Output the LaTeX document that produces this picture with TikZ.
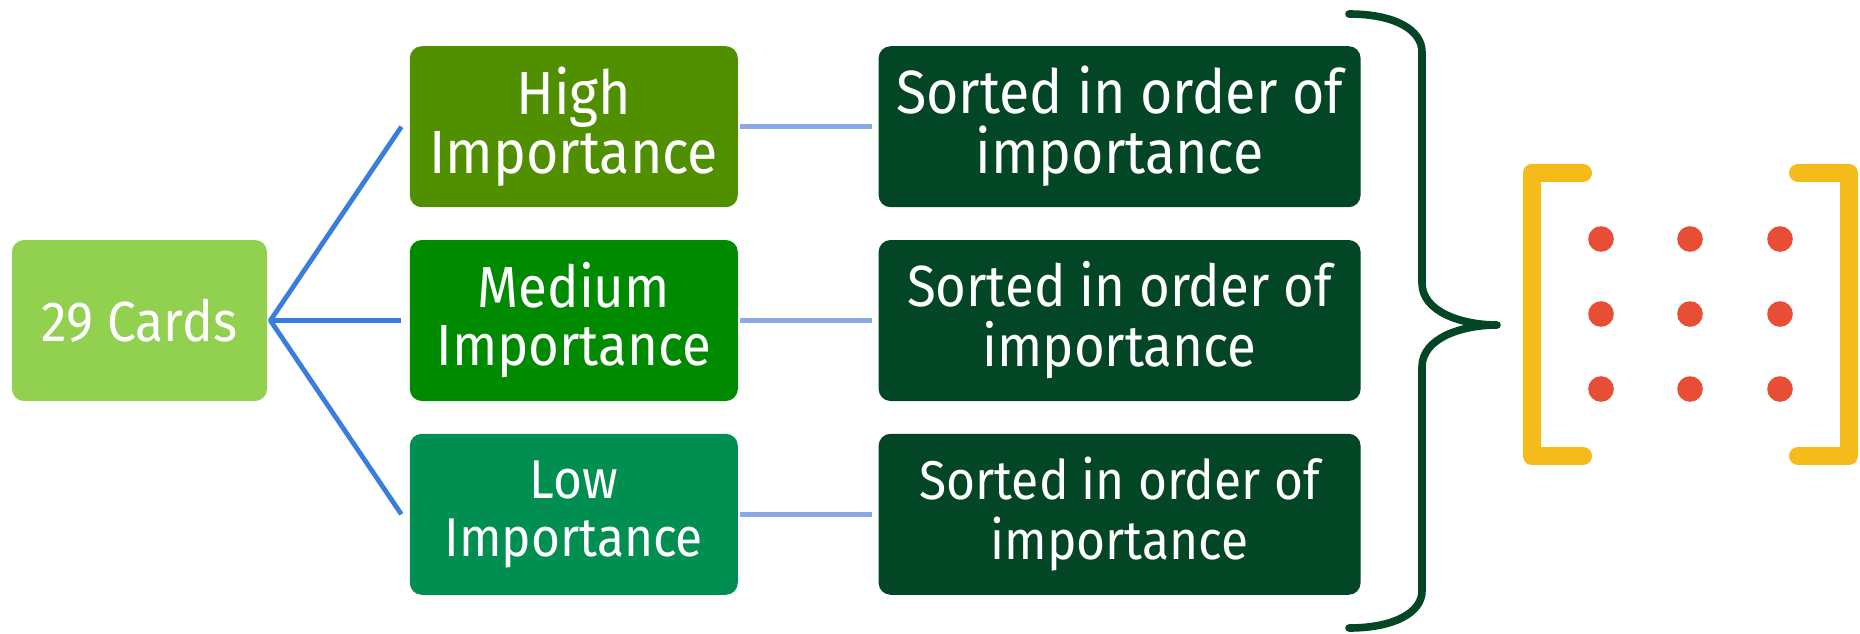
\documentclass[tikz,border=0pt]{standalone}
\usepackage{fontspec}
\setmainfont[FakeStretch=0.91]{Fira Sans}
\usetikzlibrary{positioning}
\definecolor{cardgreen}{HTML}{92D050}
\definecolor{highgreen}{HTML}{4F8F00}
\definecolor{midgreen}{HTML}{008A00}
\definecolor{lowgreen}{HTML}{008F50}
\definecolor{sortgreen}{HTML}{034626}
\definecolor{forkblue}{HTML}{3B7DDD}
\definecolor{linkblue}{HTML}{8AA9E6}
\definecolor{bracketyellow}{HTML}{F5BB1A}
\definecolor{dotred}{HTML}{E74E35}
\begin{document}
\begin{tikzpicture}[x=0.5pt,y=-0.5pt,line join=round,line cap=round,
	box/.style={rounded corners=6pt,text=white,align=center,inner sep=0pt,minimum height=80.5pt},
	levelbox/.style={box,minimum width=164pt},
	sortbox/.style={box,fill=sortgreen,minimum width=241pt},
	fork/.style={draw=forkblue,line width=2.4pt,line cap=butt},
	link/.style={draw=linkblue,line width=2.5pt,line cap=butt}]
	\useasboundingbox (0,0) rectangle (1860,633);
	% left column
	\node[box,fill=cardgreen,minimum width=127.5pt,font=\fontsize{28.3}{30}\selectfont] (cards) at (139.5,320.5) {29 Cards};
	\node[levelbox,fill=midgreen,right=71pt of cards,font=\fontsize{29}{29}\selectfont] (medium) {Medium\\Importance};
	\node[levelbox,fill=highgreen,above=16pt of medium,font=\fontsize{30.5}{29.5}\selectfont] (high) {High\\Importance};
	\node[levelbox,fill=lowgreen,below=16pt of medium,font=\fontsize{27.3}{29}\selectfont] (low) {Low\\Importance};
	% sorted boxes
	\node[sortbox,right=70pt of high,font=\fontsize{30.5}{30}\selectfont] (highsort) {Sorted in order of\\importance};
	\node[sortbox,right=70pt of medium,font=\fontsize{29}{30}\selectfont] (mediumsort) {Sorted in order of\\importance};
	\node[sortbox,right=70pt of low,font=\fontsize{27.3}{30}\selectfont] (lowsort) {Sorted in order of\\importance};
	% connectors
	\coordinate (fork) at ([xshift=1.5pt]cards.east);
	\draw[fork] ([xshift=-4pt]high.west) -- (fork) -- ([xshift=-4pt]low.west);
	\draw[fork] (fork) -- ([xshift=-4pt]medium.west);
	\draw[link] ([xshift=1pt]high.east) -- ([xshift=-3pt]highsort.west);
	\draw[link] ([xshift=1pt]medium.east) -- ([xshift=-3pt]mediumsort.west);
	\draw[link] ([xshift=1pt]low.east) -- ([xshift=-3pt]lowsort.west);
	% brace
	\draw[sortgreen,line width=3.8pt] (1349,14) .. controls (1395,14) and (1422,30) .. (1422,52) -- (1422,283)
		.. controls (1422,312) and (1462,325) .. (1497,325) .. controls (1462,325) and (1422,338) .. (1422,367)
		-- (1422,591) .. controls (1422,612) and (1395,628) .. (1349,628);
	% matrix
	\draw[bracketyellow,line width=9pt] (1583,173) -- (1531.5,173) -- (1531.5,456) -- (1583,456);
	\draw[bracketyellow,line width=9pt] (1798,173) -- (1848.5,173) -- (1848.5,456) -- (1798,456);
	\foreach \x in {1601,1690,1780}
		\foreach \y in {239,314,389}
			\fill[dotred] (\x,\y) circle(6.4pt);
\end{tikzpicture}
\end{document}
